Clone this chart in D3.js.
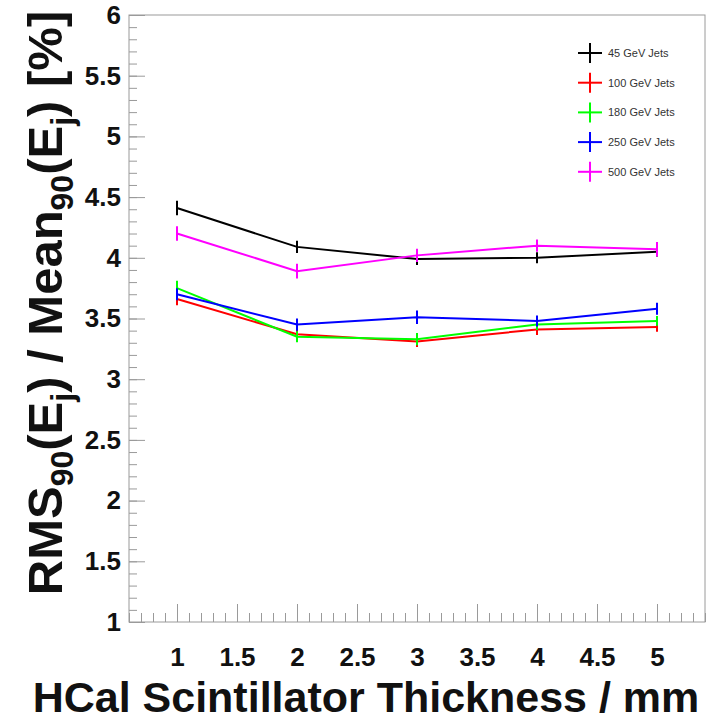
<!DOCTYPE html>
<html>
<head>
<meta charset="utf-8">
<script src="https://cdn.jsdelivr.net/npm/d3@7"></script>
<style>
  html, body { margin: 0; padding: 0; background: #fff; }
  svg { display: block; }
  text { font-family: "Liberation Sans", Arial, Helvetica, sans-serif; }
</style>
</head>
<body>
<svg id="chart" width="711" height="721"></svg>
<script>
// Scintillator thickness (mm) for each simulated configuration
const thickness = [1, 2, 3, 4, 5];

// Jet energy resolution RMS90/Mean90 in % and its uncertainty
const seriesNames = ["45 GeV Jets", "100 GeV Jets", "180 GeV Jets", "250 GeV Jets", "500 GeV Jets"];
const seriesColors = ["#000000", "#ff0000", "#00ff00", "#0000ff", "#ff00ff"];
const res45  = [4.41, 4.09, 3.99, 4.00, 4.05];
const res100 = [3.66, 3.37, 3.31, 3.41, 3.43];
const res180 = [3.75, 3.35, 3.33, 3.45, 3.48];
const res250 = [3.70, 3.45, 3.51, 3.48, 3.58];
const res500 = [4.20, 3.89, 4.02, 4.10, 4.07];
const err45  = [0.06, 0.05, 0.05, 0.045, 0.04];
const err100 = [0.05, 0.04, 0.045, 0.045, 0.04];
const err180 = [0.06, 0.045, 0.05, 0.045, 0.04];
const err250 = [0.05, 0.05, 0.055, 0.045, 0.05];
const err500 = [0.06, 0.06, 0.055, 0.05, 0.06];

const xTicks = [1, 1.5, 2, 2.5, 3, 3.5, 4, 4.5, 5];
const yTicks = [1, 1.5, 2, 2.5, 3, 3.5, 4, 4.5, 5, 5.5, 6];

const series = seriesNames.map((name, i) => ({
  name,
  color: seriesColors[i],
  values: [res45, res100, res180, res250, res500][i],
  errors: [err45, err100, err180, err250, err500][i]
}));

const svg = d3.select("#chart");
const frame = { left: 129, right: 705, top: 15, bottom: 622 };

const x = d3.scaleLinear().domain([0.6, 5.4]).range([frame.left, frame.right]);
const y = d3.scaleLinear().domain([1, 6]).range([frame.bottom, frame.top]);

const axisColor = "#9a9a9a";
const labelFont = "bold 26px 'Liberation Sans', Arial, sans-serif";

// Frame
svg.append("rect")
  .attr("x", frame.left).attr("y", frame.top)
  .attr("width", frame.right - frame.left).attr("height", frame.bottom - frame.top)
  .attr("fill", "none").attr("stroke", axisColor).attr("stroke-width", 1);

// Minor ticks every 0.1, major every 0.5
const xMinor = d3.range(6, 55).map(v => v / 10);
const yMinor = d3.range(10, 61).map(v => v / 10);

const xAxis = svg.append("g").attr("transform", `translate(0,${frame.bottom})`)
  .call(d3.axisBottom(x).tickValues(xMinor).tickSize(-9).tickFormat(""));
xAxis.select(".domain").remove();
const xMajor = svg.append("g").attr("transform", `translate(0,${frame.bottom})`)
  .call(d3.axisBottom(x).tickValues(xTicks).tickSize(-18).tickPadding(26).tickFormat(d3.format("")));
xMajor.select(".domain").remove();

const yAxis = svg.append("g").attr("transform", `translate(${frame.left},0)`)
  .call(d3.axisLeft(y).tickValues(yMinor).tickSize(-8).tickFormat(""));
yAxis.select(".domain").remove();
const yMajor = svg.append("g").attr("transform", `translate(${frame.left},0)`)
  .call(d3.axisLeft(y).tickValues(yTicks).tickSize(-16).tickPadding(8).tickFormat(d3.format("")));
yMajor.select(".domain").remove();

svg.selectAll(".tick line").attr("stroke", axisColor).attr("stroke-width", 1);
[xMajor, yMajor].forEach(g => g.selectAll(".tick text")
  .style("font", labelFont).attr("fill", "#111"));

// Axis titles
svg.append("text")
  .attr("x", 366).attr("y", 712)
  .attr("text-anchor", "middle")
  .style("font", "bold 43px 'Liberation Sans', Arial, sans-serif")
  .attr("fill", "#111")
  .text("HCal Scintillator Thickness / mm");

const yTitle = svg.append("text")
  .attr("transform", "translate(62,303) rotate(-90)")
  .attr("text-anchor", "middle")
  .style("font", "bold 49px 'Liberation Sans', Arial, sans-serif")
  .attr("fill", "#111");
const sub = (t) => yTitle.append("tspan").attr("dy", 11).style("font-size", "32px").text(t);
const norm = (t) => yTitle.append("tspan").attr("dy", -11).text(t);
yTitle.append("tspan").text("RMS");
sub("90");
norm("(E");
sub("j");
norm(") / Mean");
sub("90");
norm("(E");
sub("j");
norm(") [%]");

// Lines joining the points
const line = d3.line().x((d, i) => x(thickness[i])).y(d => y(d));
const plot = svg.append("g");
series.forEach(s => {
  plot.append("path")
    .datum(s.values)
    .attr("d", line)
    .attr("fill", "none")
    .attr("stroke", s.color)
    .attr("stroke-width", 2);
});
// Vertical error bars
series.forEach(s => {
  plot.selectAll(null)
    .data(s.values.map((v, i) => ({ t: thickness[i], v, e: s.errors[i] })))
    .enter().append("line")
    .attr("x1", d => x(d.t)).attr("x2", d => x(d.t))
    .attr("y1", d => y(d.v + d.e)).attr("y2", d => y(d.v - d.e))
    .attr("stroke", s.color).attr("stroke-width", 2);
});

// Legend
const legend = svg.append("g");
series.forEach((s, i) => {
  const cy = 53 + i * 29.7;
  const g = legend.append("g").attr("transform", `translate(590,${cy})`);
  g.append("line").attr("x1", -12).attr("x2", 12).attr("y1", 0).attr("y2", 0)
    .attr("stroke", s.color).attr("stroke-width", 2);
  g.append("line").attr("x1", 0).attr("x2", 0).attr("y1", -10).attr("y2", 10)
    .attr("stroke", s.color).attr("stroke-width", 2);
  g.append("text").attr("x", 18).attr("y", 4)
    .style("font", "11px 'Liberation Sans', Arial, sans-serif")
    .attr("fill", "#333")
    .text(s.name);
});
</script>
</body>
</html>
